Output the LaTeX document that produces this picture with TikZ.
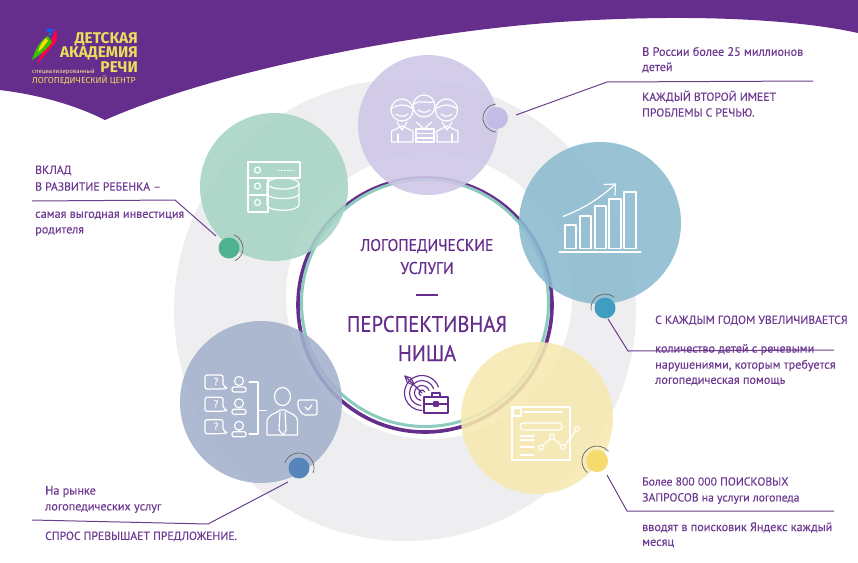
\documentclass[tikz,border=0pt]{standalone}
\usepackage{graphicx}
\usepackage{fontspec}
\setmainfont[FakeBold=0.25]{PT Sans}
\newfontfamily\logofont{Fira Sans}
\definecolor{vio}{HTML}{652D8C}
\definecolor{txtc}{HTML}{6F3A92}
\definecolor{linec}{HTML}{6B3F90}
\definecolor{grayr}{HTML}{EEEEF0}
\definecolor{lav}{HTML}{CDC7E7}
\definecolor{tea}{HTML}{A6D3C4}
\definecolor{blu}{HTML}{8BBBD0}
\definecolor{sla}{HTML}{A3B0CC}
\definecolor{yel}{HTML}{F7E9B0}
\definecolor{ylogo}{HTML}{EBDD5E}
\definecolor{dlav}{HTML}{C4BCE6}
\definecolor{dtea}{HTML}{4FB38F}
\definecolor{dblu}{HTML}{3F9DBF}
\definecolor{dsla}{HTML}{5585BB}
\definecolor{dyel}{HTML}{F5DA6E}
\definecolor{ringt}{HTML}{8CCBBE}
\newcommand{\squeeze}[1]{\scalebox{.92}[1]{#1}}
\tikzset{
  disc/.style={fill=#1,opacity=.88,draw=none},
  dotc/.style={fill=#1,draw=none},
  arcl/.style={draw=black!60,line width=.7pt},
  conn/.style={draw=linec,line width=1pt},
  ic/.style={draw=white,line width=1.2pt,line cap=round,line join=round,fill=none},
  icv/.style={draw=vio,line width=1.1pt,line cap=round,line join=round,fill=none},
  tx/.style={anchor=west,inner sep=0pt,text=txtc,font=\fontsize{12.2}{12}\selectfont},
  txc/.style={anchor=west,inner sep=0pt,text=txtc,font=\fontsize{11.7}{12}\selectfont},
  captx/.style={anchor=center,inner sep=0pt,text=vio},
  lg/.style={anchor=east,inner sep=0pt,text=ylogo,font=\logofont\bfseries\fontsize{15.5}{15.5}\selectfont}
}
\begin{document}
\begin{tikzpicture}[x=1pt,y=-1pt]
\useasboundingbox (0,0) rectangle (858,562);
\fill[white] (0,0) rectangle (858,562);
% gray ring
\fill[grayr] (405,310) circle[radius=231];
\fill[white] (429,296) circle[radius=143];
% purple band
\fill[vio] (0,0) -- (858,0) -- (858,33) .. controls (790,18) and (680,14) .. (560,22)
  .. controls (440,30) and (230,65) .. (105,120)
  .. controls (75,105) and (40,95) .. (0,90) -- cycle;
% central rings
\node[circle,draw=vio,line width=3.6pt,minimum size=254pt,inner sep=0pt] (ring) at (425,305) {};
\node[circle,draw=ringt,line width=3pt,minimum size=247pt,inner sep=0pt] (ring2) at (425,303) {};
% discs
\node[circle,disc=lav,minimum size=140pt,inner sep=0pt] (a) at (428,125) {};
\node[circle,disc=tea,minimum size=148pt,inner sep=0pt] (b) at (274,187) {};
\node[circle,disc=blu,minimum size=162pt,inner sep=0pt] (c) at (600,223) {};
\node[circle,disc=sla,minimum size=162pt,inner sep=0pt] (d) at (261,402) {};
\node[circle,disc=yel,minimum size=152pt,inner sep=0pt] (e) at (537,418) {};
% dots
\node[circle,dotc=dlav,minimum size=22pt,inner sep=0pt] (da) at (497,118) {};
\node[circle,dotc=dtea,minimum size=21pt,inner sep=0pt] (db) at (229,248) {};
\node[circle,dotc=dblu,minimum size=21pt,inner sep=0pt] (dc) at (605,308) {};
\node[circle,dotc=dsla,minimum size=21pt,inner sep=0pt] (dd) at (299,468) {};
\node[circle,dotc=dyel,minimum size=22pt,inner sep=0pt] (de) at (597,461) {};
\draw[arcl] (da.center) ++(95:14) arc[start angle=95,end angle=265,radius=14];
\draw[arcl] (db.center) ++(-70:14) arc[start angle=-70,end angle=65,radius=14];
\draw[arcl] (dc.center) ++(-50:14) arc[start angle=-50,end angle=-190,radius=14];
\draw[arcl] (dd.center) ++(-160:15) arc[start angle=-160,end angle=20,radius=15];
\draw[arcl] (de.center) ++(130:15) arc[start angle=130,end angle=320,radius=15];
% connectors
\coordinate (a0) at (516,115); \coordinate (a1) at (607,82); \coordinate (a2) at (813,81);
\coordinate (c0) at (608,319); \coordinate (c1) at (628,351); \coordinate (c2) at (834,350);
\coordinate (e0) at (607,475); \coordinate (e1) at (627,511); \coordinate (e2) at (834,511);
\coordinate (d0) at (288,482); \coordinate (d1) at (208,524); \coordinate (d2) at (32,520);
\coordinate (b0) at (216,236); \coordinate (b1) at (175,200); \coordinate (b2) at (32,201);
\draw[conn] (a0) -- (a1) -- (a2);
\draw[conn] (c0) -- (c1) -- (c2);
\draw[conn] (e0) -- (e1) -- (e2);
\draw[conn] (d0) -- (d1) -- (d2);
\draw[conn] (b0) -- (b1) -- (b2);
% texts
\node[tx] (t1) at (642,51.5) {В России более 25 миллионов};
\node[tx] (t2) at (642,67.5) {детей};
\node[txc] (t3) at (642,96.5) {КАЖДЫЙ ВТОРОЙ ИМЕЕТ};
\node[txc] (t4) at (642,112.5) {ПРОБЛЕМЫ С РЕЧЬЮ.};
\node[txc] (t5) at (655,320.5) {С КАЖДЫМ ГОДОМ УВЕЛИЧИВАЕТСЯ};
\node[tx] (t6) at (655,349.5) {количество детей с речевыми};
\node[tx] (t7) at (655,365.5) {нарушениями, которым требуется};
\node[tx] (t8) at (655,381.5) {логопедическая помощь};
\node[txc] (t9) at (642,481.5) {Более 800 000 ПОИСКОВЫХ};
\node[txc] (t10) at (642,498.5) {ЗАПРОСОВ на услуги логопеда};
\node[tx] (t11) at (642,527.5) {вводят в поисковик Яндекс каждый};
\node[tx] (t12) at (642,543.5) {месяц};
\node[tx] (t13) at (45,491.5) {На рынке};
\node[tx] (t14) at (45,508.5) {логопедических услуг};
\node[txc] (t15) at (45,536.5) {СПРОС ПРЕВЫШАЕТ ПРЕДЛОЖЕНИЕ.};
\node[txc] (t16) at (35,170.5) {ВКЛАД};
\node[txc] (t17) at (35,186.5) {В РАЗВИТИЕ РЕБЕНКА –};
\node[tx] (t18) at (35,215.5) {самая выгодная инвестиция};
\node[tx] (t19) at (35,231.5) {родителя};
\node[captx,font=\fontsize{17}{17}\selectfont] (c1t) at (427,246) {\squeeze{ЛОГОПЕДИЧЕСКИЕ}};
\node[captx,font=\fontsize{17}{17}\selectfont] (c2t) at (427,268) {\squeeze{УСЛУГИ}};
\coordinate (dashl) at (416,295); \coordinate (dashr) at (438,295);
\draw[draw=vio,line width=1.1pt] (dashl) -- (dashr);
\node[captx,font=\fontsize{22.5}{22.5}\selectfont] (c3t) at (427,324) {\squeeze{ПЕРСПЕКТИВНАЯ}};
\node[captx,font=\fontsize{22.5}{22.5}\selectfont] (c4t) at (427,353) {\squeeze{НИША}};
% logo
\node[lg] (l1) at (138,39) {ДЕТСКАЯ};
\node[lg] (l2) at (138,53.5) {АКАДЕМИЯ};
\node[lg] (l3) at (138,67.5) {РЕЧИ};
\node[anchor=west,inner sep=0pt,text=ylogo!70!white,font=\logofont\fontsize{6}{7}\selectfont] (l4) at (32,72) {специализированный};
\node[anchor=west,inner sep=0pt,text=ylogo,font=\logofont\fontsize{8.7}{9}\selectfont] (l5) at (32,80) {ЛОГОПЕДИЧЕСКИЙ ЦЕНТР};
% parrot
\fill[red!70!magenta] (54,29) .. controls (59,34) and (58,42) .. (52,46) .. controls (48,52) and (42,58) .. (37,65) .. controls (40,56) and (44,48) .. (49,42) .. controls (53,38) and (55,34) .. (54,29) -- cycle;
\fill[green!70!black!80!yellow] (48,36) .. controls (40,40) and (35,50) .. (32,60) .. controls (40,55) and (48,48) .. (52,42) -- cycle;
\fill[yellow!80!orange] (46,38) .. controls (42,42) and (39,47) .. (38,52) .. controls (42,49) and (45,45) .. (48,41) -- cycle;
\fill[blue!60!cyan] (46,30) .. controls (49,28) and (52,28) .. (54,30) .. controls (52,32) and (48,33) .. (46,30) -- cycle;
\fill[cyan!60!blue] (50,34) circle[radius=1.6];
% icon: team
\draw[ic] (402,110) circle[radius=11];
\draw[ic] (446.5,110) circle[radius=11];
\draw[ic] (424,106) circle[radius=11];
\draw[ic] (391.5,142) -- (391.5,131) -- (402,126) -- (413,131) -- (413,142) -- cycle;
\draw[ic] (437,142) -- (437,131) -- (447,126) -- (458,131) -- (458,142) -- cycle;
\draw[ic] (397,122) -- (402,130) -- (407,122) (442,122) -- (447,130) -- (452,122);
\draw[ic] (398,142) -- (398,134) (452,142) -- (452,134);
\draw[ic] (416,122) -- (424,129) -- (432,122);
\draw[ic] (416,142) -- (416,129) (434,142) -- (434,129);
\draw[ic] (416,129) -- (434,129) (416,133.5) -- (434,133.5) (416,138) -- (434,138) (416,142) -- (434,142);
\draw[ic] (392,108) .. controls (398,104) and (406,104) .. (412,108);
\draw[ic] (437,108) .. controls (443,104) and (450,104) .. (456,108);
\draw[ic] (414,104) .. controls (418,100) and (426,103) .. (434,102);
\draw[ic] (396,114) .. controls (399,117) and (405,117) .. (408,114);
\draw[ic] (441,114) .. controls (444,117) and (449,117) .. (452,114);
\draw[ic] (418,110) .. controls (421,113) and (427,113) .. (430,110);
% icon: server
\draw[ic] (248,162) rectangle (300,178);
\draw[ic] (248,178) rectangle (268,195);
\draw[ic] (248,195) rectangle (268,212);
\draw[ic] (257.5,170) circle[radius=3] (257.5,186) circle[radius=3] (257.5,202.5) circle[radius=3];
\draw[ic,dotted,line width=1pt] (278,170) -- (294,170);
\draw[ic] (283,183.5) ellipse[x radius=16,y radius=5.5];
\draw[ic] (267,183.5) -- (267,205) .. controls (268,212) and (298,212) .. (299,205) -- (299,183.5);
\draw[ic] (267,194) .. controls (268,200) and (298,200) .. (299,194);
% icon: chart
\foreach \xa/\xb/\yt in {565/576/225,580/591/216,595/606/206,609/621/199,624/636/192}
  \draw[ic] (\xa,\yt) rectangle (\xb,248.5);
\draw[ic] (559,252) -- (641,252);
\draw[ic] (563,216.5) .. controls (585,208) and (600,198) .. (615,184.5);
\draw[ic] (604,184.5) -- (615.5,184) -- (615,195);
% icon: people and questions
\foreach \yy in {0,22.3,44.7} {
  \draw[ic,rounded corners=2pt] (205,375+\yy) -- (223,375+\yy) -- (223,386+\yy) -- (228,388+\yy) -- (222,389+\yy) -- (205,389+\yy) -- cycle;
  \node[inner sep=0pt,text=white,font=\fontsize{10}{10}\selectfont] at (216,381.5+\yy) {?};
  \draw[ic] (239,381+\yy) circle[radius=4.5];
  \draw[ic,rounded corners=2pt] (232,392+\yy) -- (232,387+\yy) -- (246,387+\yy) -- (246,392+\yy) -- cycle;
}
\draw[ic] (249,382) -- (258,382) -- (258,434) -- (249,434);
\draw[ic] (258,410.5) -- (266,410.5);
\draw[ic] (282.5,396.5) ellipse[x radius=8,y radius=9];
\draw[ic] (267,435) -- (267,421) .. controls (268,414) and (276,414) .. (280,410) -- (285,410) .. controls (290,414) and (297,414) .. (297.5,421) -- (297.5,435) -- cycle;
\draw[ic] (280,412) -- (279,430) -- (283,435) -- (286,430) -- (285,412);
\draw[ic,rounded corners=2pt] (298,400) -- (317,400) -- (317,415) -- (303,415) -- (298,408) -- cycle;
\draw[ic] (305,407) -- (308,410) -- (312,405);
% icon: window
\draw[ic] (512,407) rectangle (570,460);
\draw[ic] (513,408) rectangle (521,416);
\draw[ic] (524,412) -- (562,412);
\draw[ic,rounded corners=3pt] (520,423) rectangle (562,430);
\draw[ic] (520,436) -- (534,436) (520,440) -- (534,440) (520,447) -- (534,447) (520,455) -- (534,455);
\draw[fill=yel,draw=white,line width=1.2pt] (541,447.5) circle[radius=2.5] (552,436.5) circle[radius=2.5] (563,447) circle[radius=2.5] (577,429) circle[radius=2.5];
\draw[ic] (543,445.5) -- (550.5,438.5) (553.5,438.5) -- (561,445) (565,445) -- (575.5,431);
% icon: target + case
\coordinate (tg) at (422,393);
\draw[icv] (tg) ++(-20:17.5) arc[start angle=-20,end angle=-270,radius=17.5];
\draw[icv] (tg) ++(-20:12.5) arc[start angle=-20,end angle=-265,radius=12.5];
\draw[icv] (tg) ++(-20:7.5) arc[start angle=-20,end angle=-260,radius=7.5];
\draw[icv] (tg) ++(-20:3) arc[start angle=-20,end angle=-250,radius=3];
\draw[icv] (405,376) -- (422,393);
\draw[icv] (405,376) -- (411,378) -- (414,384) (405,376) -- (407,382) -- (413,385);
\draw[icv,fill=white] (424,397) rectangle (448,413);
\draw[icv] (432,397) -- (432,393) -- (440,393) -- (440,397);
\draw[icv] (424,404) -- (448,404);
\draw[icv] (434,402) rectangle (438,406);
\end{tikzpicture}
\end{document}
